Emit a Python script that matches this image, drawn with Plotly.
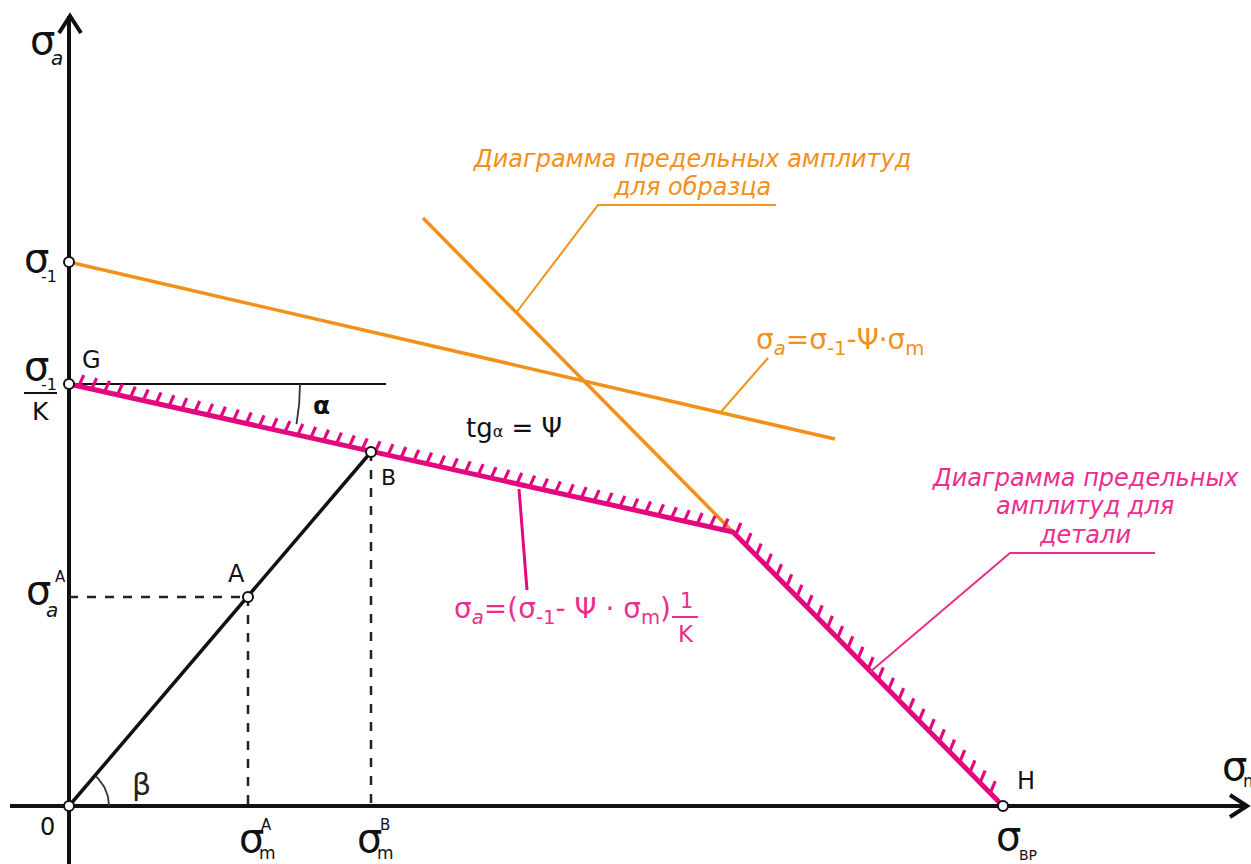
import numpy as np
import plotly.graph_objects as go

# ---- data (sigma_m, sigma_a) in drawing units, origin at O ----
load_x = [0, 179, 302]          # O, A, B
load_y = [0, 209, 354]
orange1_x = [0, 766]            # sigma_a = sigma_-1 - psi*sigma_m
orange1_y = [544, 367]
orange2_x = [354, 664]
orange2_y = [588, 274]
pink_x = [0, 664, 934]          # G, knee, H
pink_y = [422, 274, 0]
g_line_x = [0, 317]
g_line_y = [422, 422]
pts_x = [0, 0, 0, 179, 302, 934]   # O, sigma_-1, G, A, B, H
pts_y = [0, 544, 422, 209, 354, 0]

ORANGE = "#F39019"
PINK = "#E4087F"
PINK_T = "#EC2D8E"
BLACK = "#111111"
OX, OY = 69, 806   # pixel position of origin

def P(px, py):
    return px - OX, OY - py

fig = go.Figure()

def line(xs, ys, color, width, dash=None):
    fig.add_trace(go.Scatter(x=xs, y=ys, mode="lines",
                             line=dict(color=color, width=width, dash=dash),
                             hoverinfo="skip", showlegend=False))

# axes
line([P(10, 0)[0], P(1247, 0)[0]], [0, 0], BLACK, 4)
line([0, 0], [P(0, 870)[1], P(0, 16)[1]], BLACK, 4)
# arrowheads
ax_, ay_ = zip(P(59, 33), P(70, 16), P(81, 33))
line(list(ax_), list(ay_), BLACK, 4)
bx_, by_ = zip(P(1230, 795), P(1247, 806), P(1230, 817))
line(list(bx_), list(by_), BLACK, 4)

# dashed projections
line([0, load_x[1]], [load_y[1], load_y[1]], "#222", 2.5, "9px,9px")
line([load_x[1], load_x[1]], [load_y[1], 0], "#222", 2.5, "9px,9px")
line([load_x[2], load_x[2]], [load_y[2], 0], "#222", 2.5, "9px,9px")

# horizontal at G
line(g_line_x, g_line_y, BLACK, 2)

# orange lines
line(orange1_x, orange1_y, ORANGE, 3.5)
line(orange2_x, orange2_y, ORANGE, 3.5)

# hatching along pink line
hx, hy = [], []
def hatch(x0, y0, x1, y1, step, d, start=8, end=6):
    L = np.hypot(x1 - x0, y1 - y0)
    ux, uy = (x1 - x0) / L, (y1 - y0) / L
    s = start
    while s < L - end:
        bx, by = x0 + ux * s, y0 + uy * s
        hx.extend([bx, bx + d[0], None])
        hy.extend([by, by + d[1], None])
        s += step
hatch(pink_x[0], pink_y[0], pink_x[1], pink_y[1], 13.2, (5, 11), start=10, end=4)
hatch(pink_x[1], pink_y[1], pink_x[2], pink_y[2], 14.5, (5, 12), start=4, end=8)
line(hx, hy, PINK, 3.2)
line(pink_x, pink_y, PINK, 5)

# load line O-B
line(load_x[::2], load_y[::2], BLACK, 3.5)

# arcs
t = np.radians(np.linspace(0, -10, 20))
line(list(231 * np.cos(t)), list(422 + 231 * np.sin(t)), "#333", 1.8)
t = np.radians(np.linspace(0, 47, 20))
line(list(40 * np.cos(t)), list(40 * np.sin(t)), "#333", 1.8)

# leader lines
l1 = [P(516, 313), P(598, 205), P(776, 205)]
line([p[0] for p in l1], [p[1] for p in l1], ORANGE, 2)
l2 = [P(720, 413), P(768, 358)]
line([p[0] for p in l2], [p[1] for p in l2], ORANGE, 2)
l3 = [P(519, 489), P(527, 590)]
line([p[0] for p in l3], [p[1] for p in l3], PINK, 3)
l4 = [P(870, 672), P(1010, 553), P(1155, 553)]
line([p[0] for p in l4], [p[1] for p in l4], PINK_T, 2)
# fraction bars
fb = [P(24, 393), P(57, 393)]
line([p[0] for p in fb], [p[1] for p in fb], BLACK, 2)
fb2 = [P(672, 617), P(698, 617)]
line([p[0] for p in fb2], [p[1] for p in fb2], PINK_T, 2)

# points
fig.add_trace(go.Scatter(x=pts_x, y=pts_y, mode="markers",
                         marker=dict(size=10, color="white",
                                     line=dict(color=BLACK, width=2)),
                         hoverinfo="skip", showlegend=False))

FONT = "DejaVu Sans"
ann = []
def T(text, px, py, size, color=BLACK, xanchor="center", italic=False, bold=False):
    x, y = P(px, py)
    if italic:
        text = "<i>" + text + "</i>"
    if bold:
        text = "<b>" + text + "</b>"
    ann.append(dict(x=x, y=y, text=text, showarrow=False, xanchor=xanchor,
                    yanchor="middle", font=dict(family=FONT, size=size, color=color)))

SIG = "σ"
S = 40
# axis labels
T(SIG, 42, 40, S)
T("<i>a</i>", 57, 58, 20)
T(SIG, 36, 258, S)
T("-1", 49, 276, 16)
T(SIG, 36, 366, S)
T("-1", 49, 384, 16)
T("K", 40, 411, 25)
T("G", 91, 360, 24)
T(SIG, 38, 590, S)
T("A", 60, 577, 15)
T("<i>a</i>", 52, 610, 20)
T("A", 236, 574, 24)
T("B", 388, 477, 22)
T("0", 47, 827, 24)
T("β", 141, 784, 30, "#222")
T("α", 321, 405, 25, bold=True)
T("tg<span style='font-size:16px'>α</span> = Ψ", 514, 428, 26)
T(SIG, 251, 838, S)
T("A", 266, 825, 15)
T("m", 267, 853, 17)
T(SIG, 369, 838, S)
T("B", 385, 825, 15)
T("m", 385, 853, 17)
T(SIG, 1008, 836, S)
T("ВР", 1028, 855, 14)
T("H", 1026, 781, 24)
T(SIG, 1234, 766, S)
T("m", 1251, 781, 17)

# orange texts
T("Диаграмма предельных амплитуд", 692, 159, 24, ORANGE, italic=True)
T("для образца", 692, 187, 24, ORANGE, italic=True)
T(SIG + "<sub><i>a</i></sub>=" + SIG + "<sub>-1</sub>-Ψ·" + SIG + "<sub>m</sub>",
  840, 341, 28, ORANGE)
# pink texts
T(SIG + "<sub><i>a</i></sub>=(" + SIG + "<sub>-1</sub>- Ψ · " + SIG + "<sub>m</sub>)",
  562, 610, 28, PINK_T)
T("1", 686, 601, 21, PINK_T)
T("K", 686, 634, 23, PINK_T)
T("Диаграмма предельных", 1085, 478, 24, PINK_T, italic=True)
T("амплитуд для", 1085, 506, 24, PINK_T, italic=True)
T("детали", 1085, 535, 24, PINK_T, italic=True)

fig.update_layout(
    width=1251, height=864, margin=dict(l=0, r=0, t=0, b=0),
    paper_bgcolor="white", plot_bgcolor="white",
    xaxis=dict(range=[-OX, 1251 - OX], visible=False, fixedrange=True),
    yaxis=dict(range=[OY - 864, OY], visible=False, fixedrange=True),
    annotations=ann, showlegend=False,
)
fig.write_html("out.html", config=dict(displayModeBar=False),
               post_script="document.body.style.margin='0';document.body.style.overflow='hidden';")
